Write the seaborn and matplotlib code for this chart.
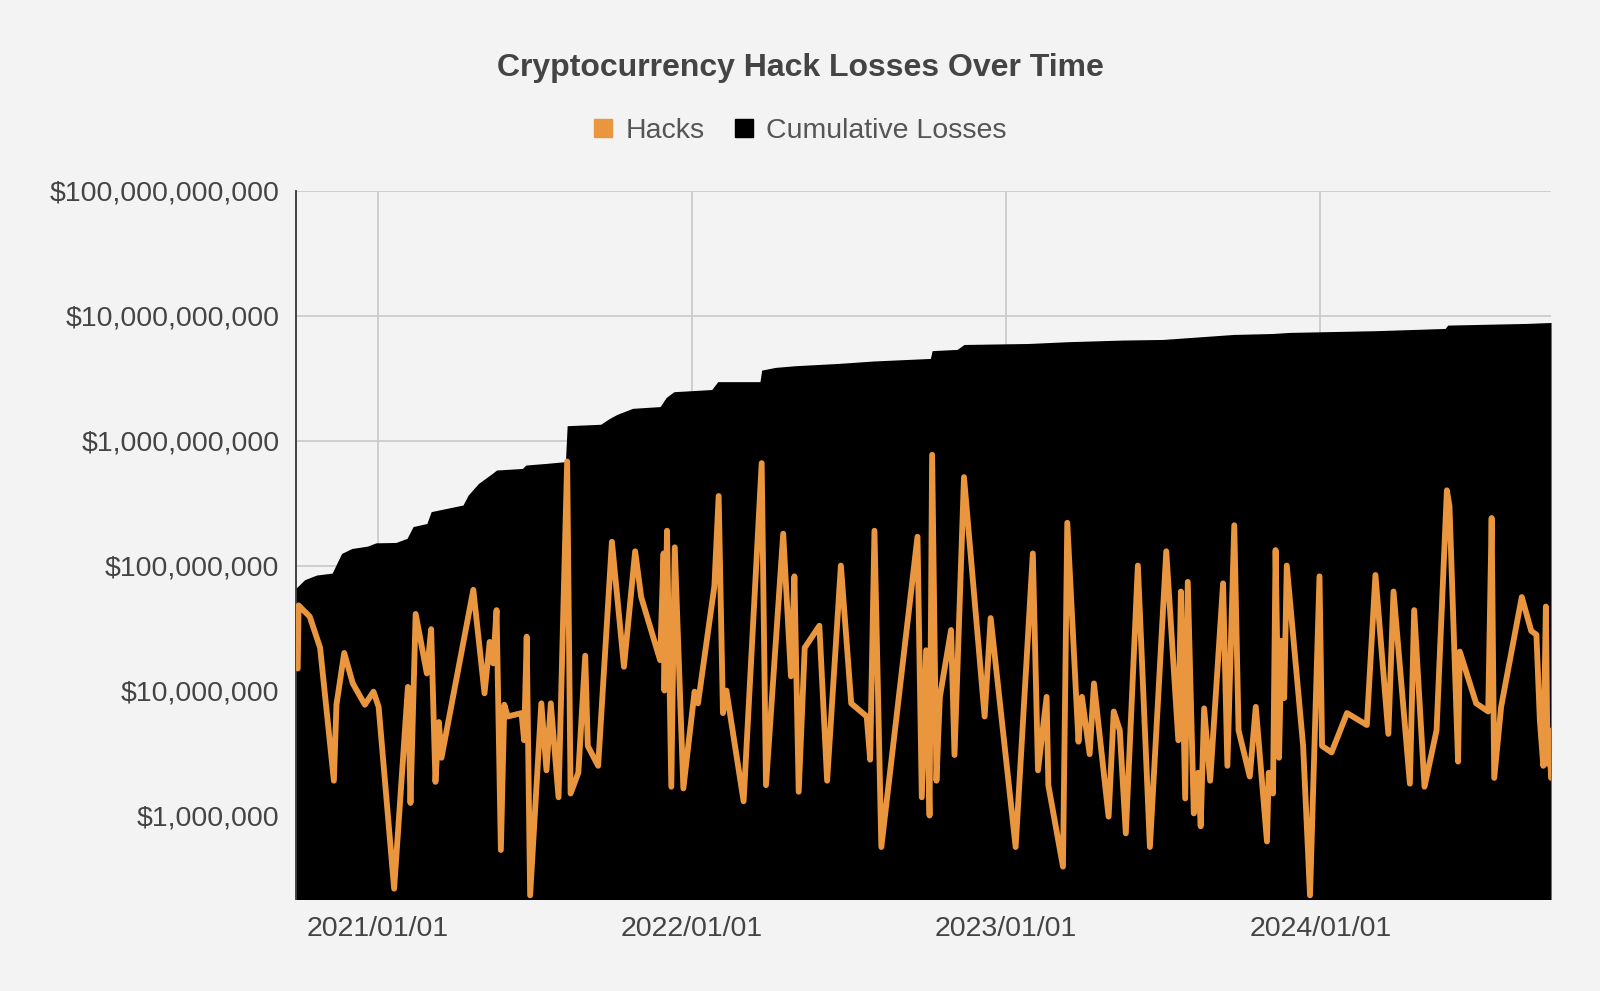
import matplotlib
matplotlib.use("Agg")
import matplotlib.pyplot as plt
import matplotlib.dates as mdates
from matplotlib.ticker import FuncFormatter, NullLocator
from matplotlib.lines import Line2D
import pandas as pd
import seaborn as sns

# Individual hacks (USD)
hack_dates = [
    "2020-09-30", "2020-10-01", "2020-10-14", "2020-10-26", "2020-11-11", "2020-11-14",
    "2020-11-23", "2020-12-03", "2020-12-17", "2020-12-27", "2021-01-02", "2021-01-20",
    "2021-02-05", "2021-02-08", "2021-02-14", "2021-02-27", "2021-03-04", "2021-03-09",
    "2021-03-13", "2021-03-16", "2021-04-22", "2021-05-05", "2021-05-11", "2021-05-15",
    "2021-05-19", "2021-05-24", "2021-05-28", "2021-06-01", "2021-06-17", "2021-06-20",
    "2021-06-23", "2021-06-27", "2021-07-10", "2021-07-16", "2021-07-21", "2021-07-30",
    "2021-08-09", "2021-08-13", "2021-08-22", "2021-08-30", "2021-09-02", "2021-09-14",
    "2021-09-30", "2021-10-14", "2021-10-27", "2021-11-03", "2021-11-25", "2021-11-29",
    "2021-11-30", "2021-12-03", "2021-12-08", "2021-12-12", "2021-12-22", "2022-01-04",
    "2022-01-08", "2022-01-20", "2022-01-27", "2022-02-01", "2022-02-06", "2022-02-10",
    "2022-03-02", "2022-03-23", "2022-03-28", "2022-04-17", "2022-04-26", "2022-04-30",
    "2022-05-05", "2022-05-12", "2022-05-29", "2022-06-07", "2022-06-23", "2022-07-05",
    "2022-07-23", "2022-07-27", "2022-08-01", "2022-08-09", "2022-09-20", "2022-09-25",
    "2022-09-30", "2022-10-04", "2022-10-07", "2022-10-12", "2022-10-16", "2022-10-29",
    "2022-11-02", "2022-11-13", "2022-12-07", "2022-12-14", "2023-01-12", "2023-02-01",
    "2023-02-07", "2023-02-17", "2023-02-19", "2023-03-08", "2023-03-13", "2023-03-26",
    "2023-03-30", "2023-04-08", "2023-04-13", "2023-04-30", "2023-05-06", "2023-05-13",
    "2023-05-20", "2023-06-03", "2023-06-17", "2023-07-06", "2023-07-20", "2023-07-23",
    "2023-07-28", "2023-07-31", "2023-08-07", "2023-08-12", "2023-08-15", "2023-08-19",
    "2023-08-26", "2023-09-10", "2023-09-15", "2023-09-23", "2023-09-28", "2023-10-11",
    "2023-10-18", "2023-10-31", "2023-11-02", "2023-11-07", "2023-11-10", "2023-11-14",
    "2023-11-17", "2023-11-20", "2023-11-23", "2023-12-12", "2023-12-20", "2023-12-31",
    "2024-01-03", "2024-01-14", "2024-02-01", "2024-02-24", "2024-03-05", "2024-03-20",
    "2024-03-26", "2024-04-14", "2024-04-19", "2024-05-01", "2024-05-15", "2024-05-27",
    "2024-05-30", "2024-06-09", "2024-06-11", "2024-06-30", "2024-07-14", "2024-07-18",
    "2024-07-21", "2024-07-29", "2024-08-22", "2024-09-02", "2024-09-08", "2024-09-12",
    "2024-09-16", "2024-09-19", "2024-09-21", "2024-09-23", "2024-09-25",
]
hack_losses = [
    1.5e7, 4.8e7, 3.9e7, 2.2e7, 1.9e6, 7.7e6,
    2.0e7, 1.14e7, 7.7e6, 9.8e6, 7.4e6, 2.6e5,
    1.07e7, 1.26e6, 4.1e7, 1.37e7, 3.1e7, 1.86e6,
    5.6e6, 2.9e6, 6.4e7, 9.5e6, 2.45e7, 1.65e7,
    4.4e7, 5.3e5, 7.7e6, 6.2e6, 6.6e6, 4.0e6,
    2.7e7, 2.3e5, 7.9e6, 2.3e6, 7.9e6, 1.4e6,
    6.8e8, 1.5e6, 2.2e6, 1.9e7, 3.6e6, 2.5e6,
    1.55e8, 1.55e7, 1.3e8, 5.6e7, 1.75e7, 1.25e8,
    1.0e7, 1.9e8, 1.7e6, 1.4e8, 1.65e6, 9.8e6,
    7.9e6, 3.05e7, 6.8e7, 3.6e8, 6.6e6, 1.0e7,
    1.3e6, 6.6e8, 1.75e6, 1.8e8, 1.3e7, 8.2e7,
    1.55e6, 2.2e7, 3.3e7, 1.9e6, 1.0e8, 7.9e6,
    6.2e6, 2.8e6, 1.9e8, 5.6e5, 1.7e8, 1.4e6,
    2.1e7, 1.0e6, 7.7e8, 1.9e6, 8.9e6, 3.05e7,
    3.05e6, 5.1e8, 6.2e6, 3.8e7, 5.6e5, 1.25e8,
    2.3e6, 8.9e6, 1.75e6, 3.9e5, 2.2e8, 3.9e6,
    8.9e6, 3.1e6, 1.14e7, 9.8e5, 6.8e6, 4.8e6,
    7.2e5, 1.0e8, 5.6e5, 1.3e8, 4.0e6, 6.2e7,
    1.37e6, 7.4e7, 1.04e6, 2.2e6, 8.2e5, 7.2e6,
    1.9e6, 7.2e7, 2.5e6, 2.1e8, 4.8e6, 2.05e6,
    7.4e6, 6.2e5, 2.2e6, 1.5e6, 1.33e8, 2.9e6,
    2.5e7, 8.7e6, 1.0e8, 3.6e6, 2.3e5, 8.2e7,
    3.6e6, 3.2e6, 6.6e6, 5.3e6, 8.4e7, 4.5e6,
    6.2e7, 1.8e6, 4.4e7, 1.7e6, 4.8e6, 4.0e8,
    3.0e8, 2.7e6, 2.05e7, 7.9e6, 6.8e6, 2.4e8,
    2.0e6, 7.4e6, 5.6e7, 3.0e7, 2.8e7, 5.8e6,
    2.5e6, 4.7e7, 2.6e6, 4.8e6, 2.0e6,
]

# Running total (USD)
cum_dates = [
    "2020-09-28", "2020-10-08", "2020-10-22", "2020-11-09", "2020-11-20", "2020-12-02",
    "2020-12-20", "2020-12-30", "2021-01-22", "2021-02-04", "2021-02-11", "2021-02-27",
    "2021-03-04", "2021-04-10", "2021-04-16", "2021-04-28", "2021-05-14", "2021-05-19",
    "2021-06-18", "2021-06-22", "2021-07-15", "2021-08-07", "2021-08-09", "2021-09-17",
    "2021-09-27", "2021-10-06", "2021-10-24", "2021-11-25", "2021-12-02", "2021-12-11",
    "2022-01-24", "2022-01-31", "2022-03-21", "2022-03-23", "2022-04-08", "2022-05-01",
    "2022-06-20", "2022-07-31", "2022-10-05", "2022-10-07", "2022-11-05", "2022-11-13",
    "2023-01-27", "2023-03-14", "2023-05-17", "2023-07-02", "2023-09-22", "2023-11-07",
    "2023-11-26", "2024-03-06", "2024-05-25", "2024-05-28", "2024-08-27", "2024-09-25",
]
cum_losses = [
    6.6e7, 7.7e7, 8.4e7, 8.7e7, 1.25e8, 1.37e8,
    1.43e8, 1.52e8, 1.53e8, 1.65e8, 2.05e8, 2.17e8,
    2.7e8, 3.05e8, 3.66e8, 4.54e8, 5.46e8, 5.81e8,
    5.98e8, 6.37e8, 6.56e8, 6.78e8, 1.315e9, 1.35e9,
    1.5e9, 1.62e9, 1.81e9, 1.87e9, 2.21e9, 2.46e9,
    2.56e9, 2.96e9, 2.96e9, 3.66e9, 3.85e9, 3.97e9,
    4.14e9, 4.33e9, 4.54e9, 5.24e9, 5.36e9, 5.87e9,
    5.98e9, 6.18e9, 6.37e9, 6.44e9, 7.06e9, 7.19e9,
    7.33e9, 7.57e9, 7.89e9, 8.39e9, 8.65e9, 8.8e9,
]

year_ticks = ["2021-01-01", "2022-01-01", "2023-01-01", "2024-01-01"]
y_ticks = [1e6, 1e7, 1e8, 1e9, 1e10, 1e11]

ORANGE = "#E9963E"
BG = "#f3f3f3"

sns.set_theme(style="whitegrid", rc={"axes.facecolor": BG, "figure.facecolor": BG})
plt.rcParams["font.family"] = ["Liberation Sans", "DejaVu Sans"]

hacks = pd.DataFrame({"date": pd.to_datetime(hack_dates), "loss": hack_losses})
cum = pd.DataFrame({"date": pd.to_datetime(cum_dates), "loss": cum_losses})

fig = plt.figure(figsize=(16, 9.91), dpi=100)
ax = fig.add_axes([0.185, 0.0928, 0.7844, 0.7149])

ax.fill_between(cum["date"], cum["loss"], 1e3, color="black", linewidth=0, zorder=1)
sns.lineplot(data=hacks, x="date", y="loss", ax=ax, color=ORANGE, linewidth=4.2,
             estimator=None, sort=False, zorder=3)
ax.lines[-1].set_solid_joinstyle("round")
ax.lines[-1].set_solid_capstyle("round")

ax.set_yscale("log")
ax.set_ylim(2.148e5, 1e11)
ax.set_xlim(pd.Timestamp("2020-09-28"), pd.Timestamp("2024-09-25"))

ax.set_yticks(y_ticks)
ax.yaxis.set_major_formatter(FuncFormatter(lambda v, p: f"${v:,.0f}"))
ax.yaxis.set_minor_locator(NullLocator())
ax.set_xticks(pd.to_datetime(year_ticks))
ax.xaxis.set_major_formatter(mdates.DateFormatter("%Y/%m/%d"))

ax.tick_params(axis="both", length=0, labelsize=20.5, labelcolor="#444444")
ax.tick_params(axis="y", pad=12)
ax.tick_params(axis="x", pad=12.5)
ax.set_xlabel("")
ax.set_ylabel("")

ax.grid(True, color="#cccccc", linewidth=1.3)
ax.set_axisbelow(True)
for side in ["top", "right", "bottom"]:
    ax.spines[side].set_visible(False)
ax.spines["left"].set_color("#333333")
ax.spines["left"].set_linewidth(1.3)

fig.text(0.5, 1 - 68 / 991, "Cryptocurrency Hack Losses Over Time", ha="center", va="center",
         fontsize=23, fontweight="bold", color="#444444")

handles = [
    Line2D([], [], marker="s", linestyle="none", markersize=13, color=ORANGE),
    Line2D([], [], marker="s", linestyle="none", markersize=13, color="black"),
]
fig.legend(handles, ["Hacks", "Cumulative Losses"], loc="center",
           bbox_to_anchor=(0.5, 1 - 130.6 / 991), ncol=2, frameon=False, fontsize=20.5,
           handlelength=0.7, handletextpad=0.45, columnspacing=1.0, labelcolor="#555555")

fig.savefig("out.png", dpi=100, facecolor=BG)
